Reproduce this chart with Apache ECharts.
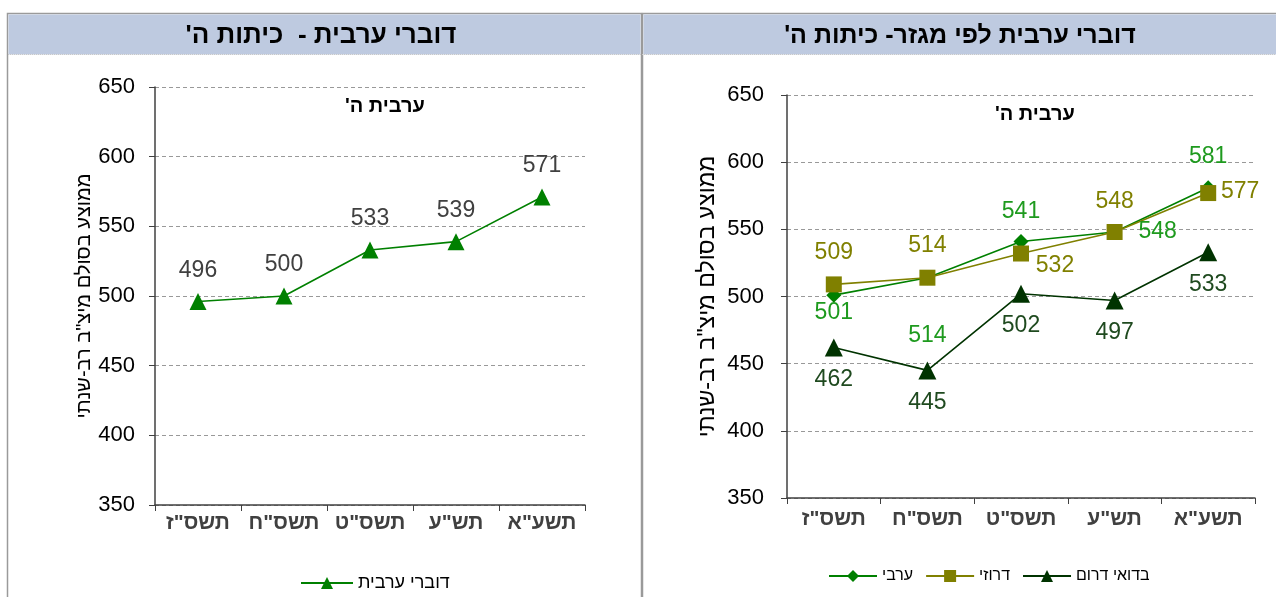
<!DOCTYPE html>
<html>
<head>
<meta charset="utf-8">
<script src="https://cdn.jsdelivr.net/npm/echarts@6/dist/echarts.min.js"></script>
<style>
  html, body { margin: 0; padding: 0; background: #fff; }
  #chart { width: 1276px; height: 597px; }
</style>
</head>
<body>
<div id="chart"></div>
<script>
// School years (categories) and mean scores
const years = ['תשס"ז', 'תשס"ח', 'תשס"ט', 'תש"ע', 'תשע"א'];
const yTicks = [350, 400, 450, 500, 550, 600, 650];

const arabicSpeakers = [496, 500, 533, 539, 571];
const arab = [501, 514, 541, 548, 581];
const druze = [509, 514, 532, 548, 577];
const bedouinSouth = [462, 445, 502, 497, 533];

const names = {
  all: 'דוברי ערבית',
  arab: 'ערבי',
  druze: 'דרוזי',
  bedouin: 'בדואי דרום'
};

// Trailing RLM keeps closing punctuation on the right-to-left end
const rtl = s => s + '\u200F';

const FONT = '"Liberation Sans", Arial, sans-serif';
const axisName = 'ממוצע בסולם מיצ"ב רב-שנתי';

// Label offsets [dx, dy] from each marker centre
const offAll = [[0,-31],[0,-31],[0,-31],[0,-31],[0,-31]];
const offArab = [[0,17],[0,58],[0,-30],[43,0],[0,-31]];
const offDruze = [[0,-32],[0,-32],[34,12],[0,-30],[32,-1]];
const offBedouin = [[0,32],[0,32],[0,32],[0,32],[0,32]];

function withLabels(values, offsets) {
  return values.map((v, i) => ({
    value: v,
    label: { position: 'inside', offset: offsets[i] }
  }));
}

function yAxis(gridIndex, nameGap, nameSize, labelMargin) {
  return {
    type: 'value', gridIndex,
    min: yTicks[0], max: yTicks[yTicks.length - 1], interval: 50,
    name: axisName, nameLocation: 'middle', nameGap, nameRotate: 90,
    nameTextStyle: { fontSize: nameSize, color: '#000', fontFamily: FONT },
    axisLine: { show: true, lineStyle: { color: '#404040', width: 1.5 } },
    axisTick: { show: true, inside: false, length: 6, lineStyle: { color: '#404040' } },
    axisLabel: { fontSize: 22, color: '#000', margin: labelMargin, fontFamily: FONT },
    splitLine: { show: true, lineStyle: { color: '#999', type: [4, 3], width: 1 } }
  };
}

function xAxis(gridIndex, labelMargin) {
  return {
    type: 'category', gridIndex, data: years,
    axisLine: { show: true, lineStyle: { color: '#404040', width: 1.5 } },
    axisTick: { show: true, length: 6, interval: 0, lineStyle: { color: '#404040' } },
    axisLabel: { interval: 0, hideOverlap: false, fontSize: 21, fontWeight: 'bold',
      color: '#404040', margin: labelMargin, fontFamily: FONT },
    splitLine: { show: false }
  };
}

function lineSeries(name, values, offsets, idx, color, labelColor, symbol, size) {
  return {
    type: 'line', name, xAxisIndex: idx, yAxisIndex: idx,
    data: withLabels(values, offsets),
    symbol, symbolSize: size,
    itemStyle: { color },
    lineStyle: { color, width: 1.6 },
    label: { show: true, fontSize: 23, color: labelColor, fontFamily: FONT },
    emphasis: { disabled: true },
    animation: false
  };
}

const chart = echarts.init(document.getElementById('chart'));

chart.setOption({
  animation: false,
  textStyle: { fontFamily: FONT },
  graphic: [
    // panel frames
    { type: 'rect', shape: { x: 7.5, y: 13.5, width: 634, height: 600 },
      style: { fill: '#fff', stroke: '#9a9a9a', lineWidth: 1.5 }, z: -10 },
    { type: 'rect', shape: { x: 642.5, y: 13.5, width: 650, height: 600 },
      style: { fill: '#fff', stroke: '#9a9a9a', lineWidth: 1.5 }, z: -10 },
    // header bands
    { type: 'rect', shape: { x: 8.5, y: 14.5, width: 632, height: 40 },
      style: { fill: '#BECAE0' }, z: -9 },
    { type: 'rect', shape: { x: 643.5, y: 14.5, width: 640, height: 40 },
      style: { fill: '#BECAE0' }, z: -9 },
    { type: 'line', shape: { x1: 8, y1: 54.5, x2: 1276, y2: 54.5 },
      style: { stroke: '#c8c8c8', lineWidth: 1, lineDash: [1, 1] }, z: -8 },
    // panel titles
    { type: 'text', x: 321, y: 36,
      style: { text: rtl('דוברי ערבית -  כיתות ה\''), fill: '#000',
        font: 'bold 26px ' + FONT, textAlign: 'center', textVerticalAlign: 'middle' } },
    { type: 'text', x: 960, y: 36,
      style: { text: rtl('דוברי ערבית לפי מגזר- כיתות ה\''), fill: '#000',
        font: 'bold 25px ' + FONT, textAlign: 'center', textVerticalAlign: 'middle' } },
    // grade captions inside plots
    { type: 'text', x: 385, y: 106,
      style: { text: rtl('ערבית ה\''), fill: '#000',
        font: 'bold 20px ' + FONT, textAlign: 'center', textVerticalAlign: 'middle' } },
    { type: 'text', x: 1035, y: 114,
      style: { text: rtl('ערבית ה\''), fill: '#000',
        font: 'bold 20px ' + FONT, textAlign: 'center', textVerticalAlign: 'middle' } }
  ],
  grid: [
    { left: 155, top: 87, width: 430, height: 418 },
    { left: 787, top: 95, width: 468, height: 403 }
  ],
  xAxis: [xAxis(0, 8), xAxis(1, 11)],
  yAxis: [yAxis(0, 57, 20, 20), yAxis(1, 68, 23, 23)],
  legend: [
    { data: [names.all], left: 295, top: 569, itemWidth: 52, itemHeight: 15, itemGap: 12,
      textStyle: { fontSize: 18, color: '#000', fontFamily: FONT }, selectedMode: false },
    { data: [names.arab, names.druze, names.bedouin], left: 823, top: 563,
      itemWidth: 48, itemHeight: 15, itemGap: 12,
      textStyle: { fontSize: 16, color: '#000', fontFamily: FONT }, selectedMode: false }
  ],
  series: [
    lineSeries(names.all, arabicSpeakers, offAll, 0, '#008000', '#404040', 'triangle', 17),
    lineSeries(names.arab, arab, offArab, 1, '#008000', '#1E9A1E', 'diamond', 15),
    lineSeries(names.druze, druze, offDruze, 1, '#808000', '#808000', 'rect', 16),
    lineSeries(names.bedouin, bedouinSouth, offBedouin, 1, '#003300', '#1F4A1F', 'triangle', 18)
  ]
});
</script>
</body>
</html>
